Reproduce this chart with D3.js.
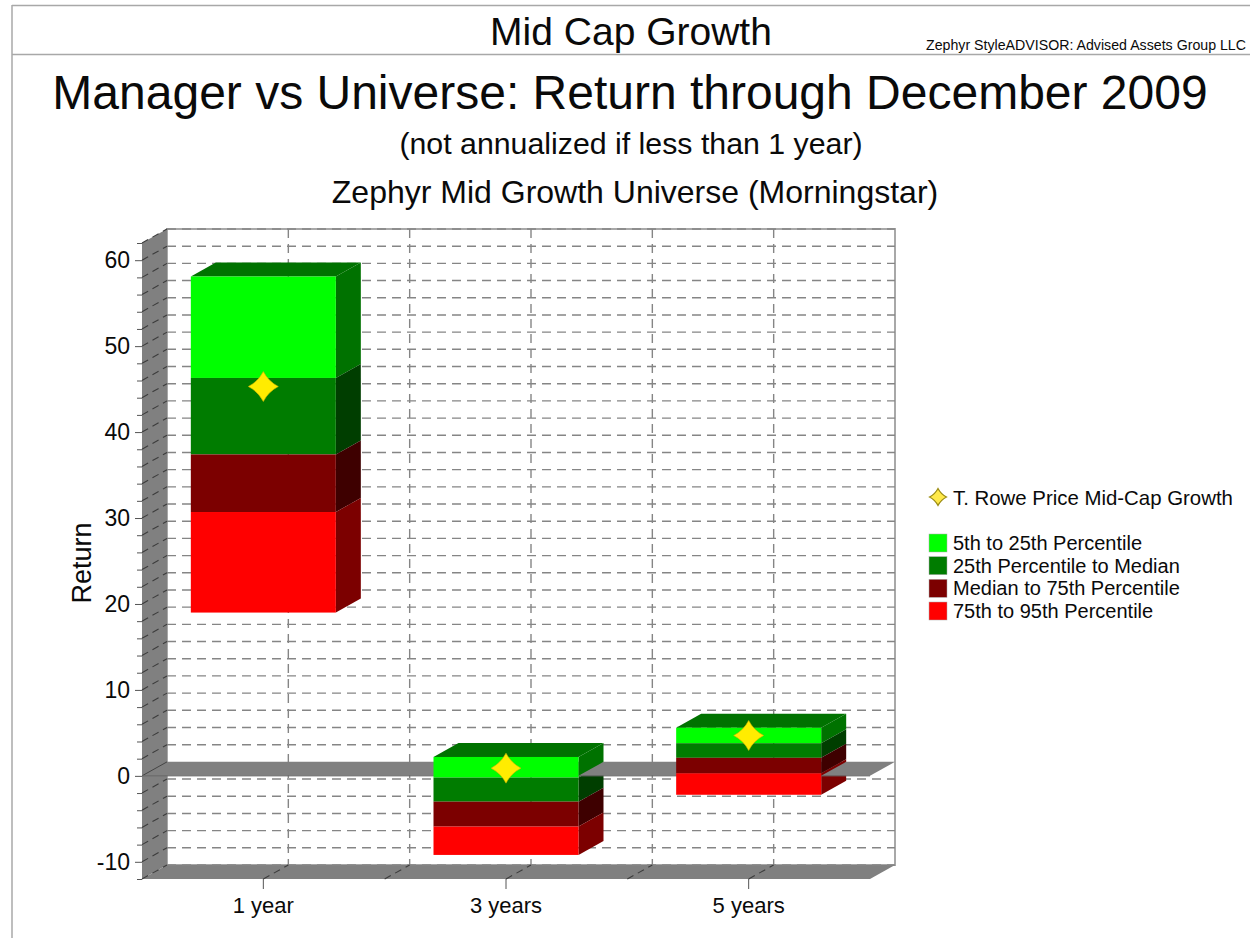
<!DOCTYPE html>
<html>
<head>
<meta charset="utf-8">
<script src="https://cdn.jsdelivr.net/npm/d3@7"></script>
<style>
    html, body { margin: 0; padding: 0; background: #fff; }
    svg { display: block; font-family: "Liberation Sans", Arial, sans-serif; }
    text { fill: #0a0a0a; }
</style>
</head>
<body>
<svg id="chart" width="1250" height="938"></svg>
<script>
const categories = ["1 year", "3 years", "5 years"];
const bandLabels = ["5th to 25th Percentile", "25th Percentile to Median", "Median to 75th Percentile", "75th to 95th Percentile"];
const managerName = "T. Rowe Price Mid-Cap Growth";
// band edges per period, top to bottom
const edges1Year = [58.1, 46.3, 37.4, 30.7, 19.0];
const edges3Years = [2.2, -0.2, -3.0, -5.9, -9.2];
const edges5Years = [5.6, 3.8, 2.1, 0.3, -2.2];
const managerReturns = [45.3, 0.9, 4.7];
const majorTicks = [-10, 0, 10, 20, 30, 40, 50, 60];
const minorTicks = [-12, -8, -6, -4, -2, 2, 4, 6, 8, 12, 14, 16, 18, 22, 24, 26, 28, 32, 34, 36, 38, 42, 44, 46, 48, 52, 54, 56, 58, 62];
const frontColors = ["#00ff00", "#007c00", "#7c0000", "#ff0000"];
const sideColors = ["#007200", "#003e00", "#3e0000", "#7c0000"];

const allEdges = [edges1Year, edges3Years, edges5Years];
const depthX = 25, depthY = -14;
const wallColor = "#808080";

const svg = d3.select("#chart");
const x = d3.scaleBand().domain(categories).range([142, 870]);
const y = d3.scaleLinear().domain([-12, 62]).range([879, 243]);
const barWidth = 145;
const line = d3.line();

function poly(parent, pts, fill) {
    return parent.append("path").attr("d", line(pts) + "Z").attr("fill", fill);
}

// four pointed star
const starSymbol = {
    draw(ctx, size) {
        const r = Math.sqrt(size), k = r * 0.34;
        ctx.moveTo(0, -r);
        ctx.quadraticCurveTo(k, -k, r, 0);
        ctx.quadraticCurveTo(k, k, 0, r);
        ctx.quadraticCurveTo(-k, k, -r, 0);
        ctx.quadraticCurveTo(-k, -k, 0, -r);
        ctx.closePath();
    }
};

// frame
const frame = svg.append("g").attr("stroke", "#a8a8a8").attr("stroke-width", 1.5);
frame.append("line").attr("x1", 12).attr("x2", 1250).attr("y1", 5.5).attr("y2", 5.5);
frame.append("line").attr("x1", 12).attr("x2", 1250).attr("y1", 54.5).attr("y2", 54.5);
frame.append("line").attr("x1", 12).attr("x2", 12).attr("y1", 5).attr("y2", 938);

// titles
svg.append("text").attr("x", 631).attr("y", 45).attr("text-anchor", "middle").attr("font-size", 39).text("Mid Cap Growth");
svg.append("text").attr("x", 1246).attr("y", 50).attr("text-anchor", "end").attr("font-size", 14).attr("textLength", 320).attr("lengthAdjust", "spacingAndGlyphs").text("Zephyr StyleADVISOR: Advised Assets Group LLC");
svg.append("text").attr("x", 630).attr("y", 109).attr("text-anchor", "middle").attr("font-size", 48).text("Manager vs Universe: Return through December 2009");
svg.append("text").attr("x", 631).attr("y", 154).attr("text-anchor", "middle").attr("font-size", 30.3).text("(not annualized if less than 1 year)");
svg.append("text").attr("x", 635).attr("y", 203).attr("text-anchor", "middle").attr("font-size", 32).text("Zephyr Mid Growth Universe (Morningstar)");

const xLeft = x.range()[0], xRight = x.range()[1];
const yTop = y.range()[1], yBottom = y.range()[0];

// back wall
svg.append("rect")
    .attr("x", xLeft + depthX).attr("y", yTop + depthY)
    .attr("width", xRight - xLeft).attr("height", yBottom - yTop)
    .attr("fill", "#fff").attr("stroke", "#a8a8a8").attr("stroke-width", 2);

// side wall and floor
poly(svg, [[xLeft, yTop], [xLeft + depthX, yTop + depthY], [xLeft + depthX, yBottom + depthY], [xLeft, yBottom]], wallColor);
poly(svg, [[xLeft, yBottom], [xLeft + depthX, yBottom + depthY], [xRight + depthX, yBottom + depthY], [xRight, yBottom]], wallColor);

// gridlines
const gridValues = majorTicks.concat(minorTicks).filter(d => d !== 0);
const grid = svg.append("g").attr("fill", "none").attr("stroke", "#858585").attr("stroke-width", 1.4).attr("stroke-dasharray", "9,6");
grid.selectAll(".h").data(gridValues).enter().append("line").attr("class", "h")
    .attr("x1", xLeft + depthX).attr("x2", xRight + depthX)
    .attr("y1", d => y(d) + depthY).attr("y2", d => y(d) + depthY);
const vertical = categories.map(c => x(c) + x.bandwidth() / 2).concat(categories.slice(1).map(c => x(c)));
grid.selectAll(".v").data(vertical).enter().append("line").attr("class", "v")
    .attr("x1", d => d + depthX).attr("x2", d => d + depthX)
    .attr("y1", yTop + depthY).attr("y2", yBottom + depthY);

// dashes running across the side wall and floor
const across = svg.append("g").attr("stroke", "#3c3c3c").attr("stroke-width", 1.1).attr("stroke-dasharray", "7,5");
across.selectAll(".wall").data(gridValues).enter().append("line").attr("class", "wall")
    .attr("x1", xLeft).attr("y1", d => y(d)).attr("x2", xLeft + depthX).attr("y2", d => y(d) + depthY);
across.selectAll(".floor").data(vertical).enter().append("line").attr("class", "floor")
    .attr("x1", d => d).attr("y1", yBottom).attr("x2", d => d + depthX).attr("y2", yBottom + depthY);

// bar sides split at zero, so the zero plane can sit between them
function sidePart(c, hi, lo) {
    const xr = x(c) + x.bandwidth() / 2 + barWidth / 2;
    return [[xr, y(hi)], [xr + depthX, y(hi) + depthY], [xr + depthX, y(lo) + depthY], [xr, y(lo)]];
}
const lowerSides = svg.append("g");
const zeroPlane = svg.append("g");
const upperSides = svg.append("g");
const fronts = svg.append("g");

categories.forEach((c, i) => {
    const e = allEdges[i];
    const xl = x(c) + x.bandwidth() / 2 - barWidth / 2;
    frontColors.forEach((color, j) => {
        const hi = e[j], lo = e[j + 1];
        if (lo < 0) poly(lowerSides, sidePart(c, Math.min(hi, 0), lo), sideColors[j]);
        if (hi > 0) poly(upperSides, sidePart(c, hi, Math.max(lo, 0)), sideColors[j]);
        fronts.append("rect").attr("x", xl).attr("y", y(hi)).attr("width", barWidth)
            .attr("height", y(lo) - y(hi)).attr("fill", color);
    });
    // top cap
    poly(upperSides, [[xl, y(e[0])], [xl + depthX, y(e[0]) + depthY], [xl + barWidth + depthX, y(e[0]) + depthY], [xl + barWidth, y(e[0])]], "#007200");
});

poly(zeroPlane, [[xLeft, y(0)], [xLeft + depthX, y(0) + depthY], [xRight + depthX, y(0) + depthY], [xRight, y(0)]], wallColor);
zeroPlane.append("line").attr("x1", xLeft).attr("y1", y(0)).attr("x2", xLeft + depthX).attr("y2", y(0) + depthY)
    .attr("stroke", "#444").attr("stroke-width", 1);
zeroPlane.append("line").attr("x1", xLeft).attr("y1", y(0)).attr("x2", xRight).attr("y2", y(0))
    .attr("stroke", "#666").attr("stroke-width", 1);

// manager markers
svg.append("g").selectAll("path").data(categories).enter().append("path")
    .attr("d", d3.symbol().type(starSymbol).size(225))
    .attr("transform", (c, i) => `translate(${x(c) + x.bandwidth() / 2},${y(managerReturns[i])})`)
    .attr("fill", "#ffec00").attr("stroke", "#c8b000").attr("stroke-width", 0.6);

// axes
const yAxis = d3.axisLeft(y).tickValues(majorTicks).tickSize(7).tickPadding(5).tickFormat(d => String(d));
const yMinor = d3.axisLeft(y).tickValues(minorTicks).tickSize(5).tickFormat("");
const xAxis = d3.axisBottom(x).tickSize(10).tickPadding(8);

const gyMinor = svg.append("g").attr("transform", `translate(${xLeft},0)`).call(yMinor);
const gy = svg.append("g").attr("transform", `translate(${xLeft},0)`).call(yAxis);
const gx = svg.append("g").attr("transform", `translate(0,${yBottom})`).call(xAxis);
[gy, gyMinor, gx].forEach(g => {
    g.select(".domain").remove();
    g.selectAll(".tick line").attr("stroke", "#555");
    g.selectAll("text").attr("font-family", "'Liberation Sans', Arial, sans-serif").attr("fill", "#0a0a0a");
});
gy.selectAll("text").attr("font-size", 23);
gx.selectAll("text").attr("font-size", 22);

svg.append("text").attr("transform", "translate(91,563) rotate(-90)").attr("text-anchor", "middle").attr("font-size", 27).text("Return");

// legend
const legend = svg.append("g").attr("font-size", 20);
legend.append("path").attr("d", d3.symbol().type(starSymbol).size(72))
    .attr("transform", "translate(938,497)").attr("fill", "#ffe94a").attr("stroke", "#9a8a10").attr("stroke-width", 1.2);
legend.append("text").attr("x", 953).attr("y", 505).attr("font-size", 20.4).text(managerName);
const legendY = d3.scalePoint().domain(bandLabels).range([543, 611]);
bandLabels.forEach((label, i) => {
    legend.append("rect").attr("x", 929).attr("y", legendY(label) - 9).attr("width", 18).attr("height", 18)
        .attr("fill", frontColors[i]).attr("stroke", "#aaa").attr("stroke-width", 0.5);
    legend.append("text").attr("x", 953).attr("y", legendY(label) + 7).text(label);
});
</script>
</body>
</html>
